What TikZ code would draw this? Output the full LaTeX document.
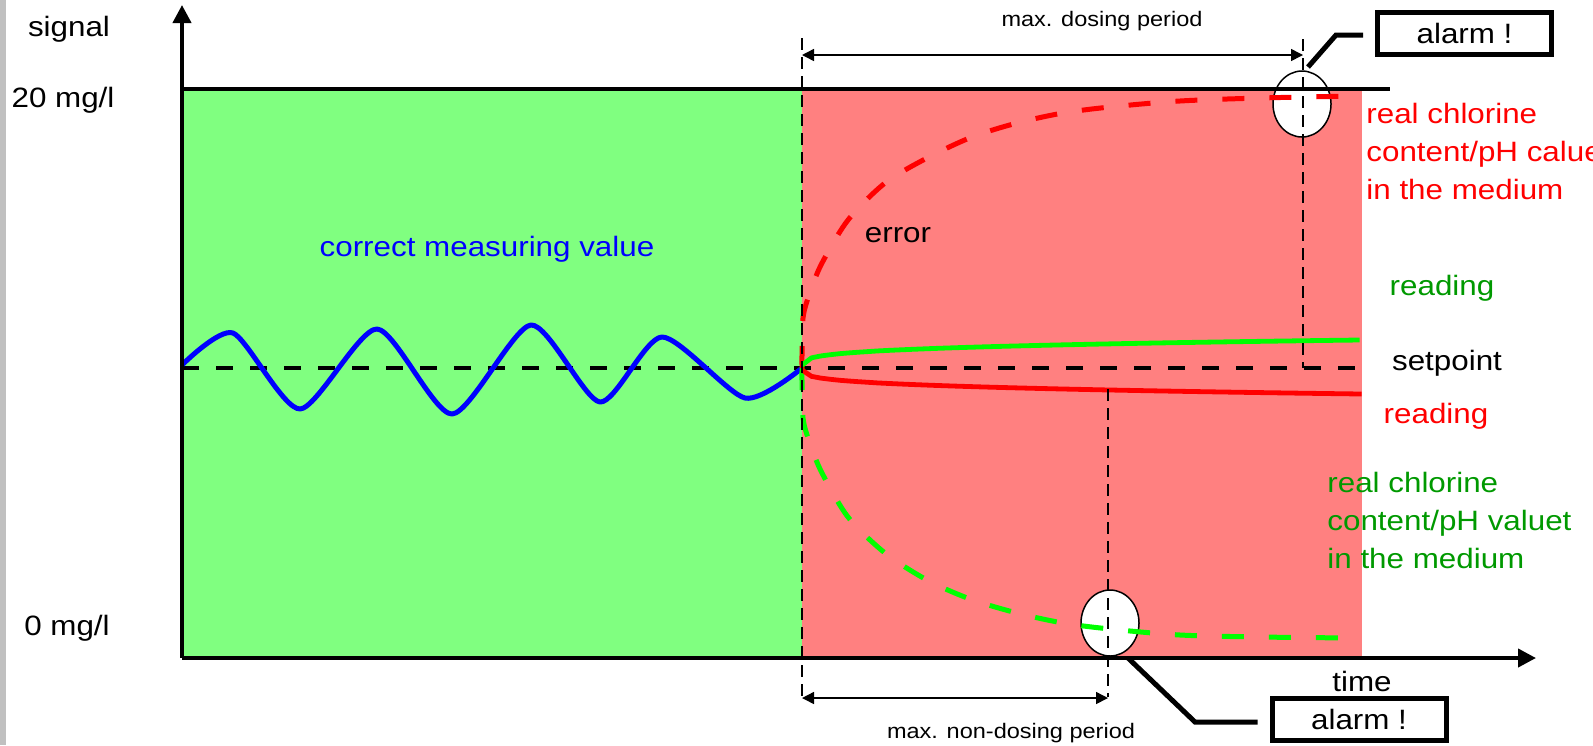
\documentclass[tikz,border=0pt]{standalone}
\usepackage{fontspec}
\setmainfont{Liberation Sans}[FakeStretch=1.12]
\usepackage{tikz}
\usetikzlibrary{arrows.meta, shapes.geometric, positioning, calc}
\definecolor{okFill}{HTML}{80FF80}
\definecolor{errFill}{HTML}{FF8080}
\definecolor{sigBlue}{HTML}{0000FF}
\definecolor{sigRed}{HTML}{FF0000}
\definecolor{sigGreen}{HTML}{00FF00}
\definecolor{txtGreen}{HTML}{009900}
\definecolor{frameGray}{HTML}{C0C0C0}
\newcommand\lblsize{\fontsize{14}{19}\selectfont}
\newcommand\notesize{\fontsize{10.5}{13}\selectfont}
\tikzset{
  sigaxis/.style={line width=2pt, -{Triangle[length=9pt, width=9pt]}},
  limitline/.style={line width=2pt},
  setline/.style={line width=2pt, dash pattern=on 8.5pt off 8.5pt},
  guide/.style={line width=0.9pt, dash pattern=on 6pt off 3.5pt},
  wave/.style={line width=2.5pt, sigBlue, line join=round},
  realval/.style={line width=2.5pt, dash pattern=on 11pt off 12.5pt},
  readval/.style={line width=2.4pt},
  spanarrow/.style={line width=0.75pt,
    {Triangle[length=6pt, width=6pt]}-{Triangle[length=6pt, width=6pt]}},
  spot/.style={draw, ellipse, fill=white, line width=0.75pt,
    minimum width=29pt, minimum height=33pt, inner sep=0pt},
  alarmbox/.style={draw, line width=2.5pt, fill=white, minimum width=87pt,
    minimum height=21pt, inner sep=0pt, font=\lblsize},
  leader/.style={line width=2.5pt, shorten >=6pt},
  lbl/.style={font=\lblsize, inner sep=0pt},
  note/.style={font=\notesize, inner sep=0pt}
}
\begin{document}
\begin{tikzpicture}[x=0.5pt, y=-0.5pt]
  \path[use as bounding box, clip] (0,0) rectangle (1593,745);
  \fill[frameGray] (0,0) rectangle (6,745);

  % fixed points
  \coordinate (orig) at (182,658);
  \coordinate (ytip) at (182,5);
  \coordinate (xtip) at (1536,658);
  \coordinate (hiL) at (182,89);
  \coordinate (hiR) at (1390,89);
  \coordinate (spL) at (182,368);
  \coordinate (spR) at (1360,368);
  \coordinate (errTop) at (802,38);
  \coordinate (errBot) at (802,697);
  \coordinate (dosTop) at (1303,39);
  \coordinate (dosBot) at (1303,368);
  \coordinate (ndTop) at (1108,389);
  \coordinate (ndBot) at (1108,697);
  \coordinate (dosA) at (802,55);
  \coordinate (dosB) at (1303,55);
  \coordinate (ndA) at (802,698);
  \coordinate (ndB) at (1108,698);

  % zones
  \fill[okFill] (hiL) rectangle (802,658);
  \fill[errFill] (802,89) rectangle (1362,658);

  \node[spot] (hittop) at (1302,104) {};
  \node[spot] (hitbot) at (1110,623) {};

  \draw[limitline] (hiL) -- (hiR);
  \draw[setline] (spL) -- (spR);

  % signals
  \draw[wave] plot[smooth, tension=0.42] coordinates {
    (182,365) (233,333) (300,409) (377,329) (452,414) (531,325) (600,402)
    (662,337) (745,398) (802,368)};
  \draw[realval, sigRed] plot[smooth] coordinates {
    (802,368) (803,318) (811,290) (822,263) (848,220) (885,183) (927,158)
    (972,137) (1017,123) (1063,113) (1110,107) (1180,101) (1260,98) (1355,96)};
  \draw[realval, sigGreen] plot[smooth] coordinates {
    (802,368) (803,418) (811,446) (822,473) (848,517) (885,553) (927,580)
    (970,599) (1017,613) (1063,623) (1110,629) (1180,635) (1260,637) (1355,638)};
  \draw[readval, sigGreen] plot[domain=0.0001:1, samples=60]
    ({802+558*\x}, {368-28*(\x)^0.25});
  \draw[readval, sigRed] plot[domain=0.0001:1, samples=60]
    ({802+560*\x}, {368+26*(\x)^0.28});

  \draw[guide] (errTop) -- (errBot);
  \draw[guide] (dosTop) -- (dosBot);
  \draw[guide] (ndTop) -- (ndBot);

  \draw[sigaxis] (orig) -- (ytip);
  \draw[sigaxis] (orig) -- (xtip);

  \draw[spanarrow] (dosA) -- (dosB);
  \draw[spanarrow] (ndA) -- (ndB);

  % alarms
  \node[alarmbox] (alarmtop) at (1464.5,33.5) {alarm !};
  \node[alarmbox] (alarmbot) at (1359,719.5) {alarm !};
  \coordinate (lt1) at (1308,67);
  \coordinate (lt2) at (1336,35);
  \coordinate (lb1) at (1128,658);
  \coordinate (lb2) at (1195,722);
  \draw[leader] (lt1) -- (lt2) -- (lt2 -| alarmtop.west);
  \draw[leader] (lb1) -- (lb2) -- (lb2 -| alarmbot.west);

  % labels
  \node[lbl, anchor=base] (signal) at (69,36) {signal};
  \node[lbl, anchor=base] (hilbl) at (63,107) {20 mg/l};
  \node[lbl, anchor=base] (zerolbl) at (67,635) {0 mg/l};
  \node[lbl, anchor=base] (time) at (1362,691) {time};
  \node[note, anchor=base] (doslbl) at (1102,26) {max. dosing period};
  \node[note, anchor=base] (ndlbl) at (1011,738) {max. non-dosing period};
  \node[lbl, anchor=base, text=sigBlue] (correct) at (487,256) {correct measuring value};
  \node[lbl, anchor=base] (error) at (898,242) {error};
  \node[lbl, anchor=base, text=txtGreen] (readgreen) at (1442,295) {reading};
  \node[lbl, anchor=base] (setpoint) at (1447,370) {setpoint};
  \node[lbl, anchor=base, text=sigRed] (readred) at (1436,423) {reading};
  \node[lbl, anchor=north west, align=left, text=sigRed] (realred) at (1366,102.6)
    {real chlorine\\content/pH calue\\in the medium};
  \node[lbl, anchor=north west, align=left, text=txtGreen] (realgreen) at (1327,471.6)
    {real chlorine\\content/pH valuet\\in the medium};
\end{tikzpicture}
\end{document}
